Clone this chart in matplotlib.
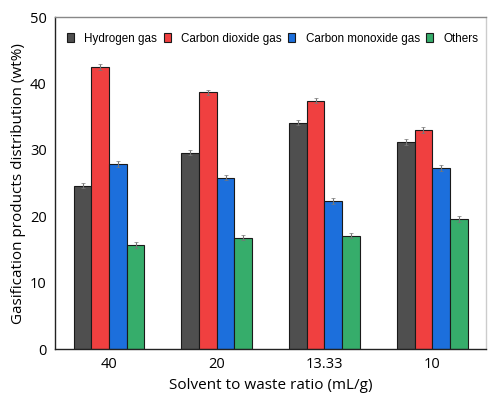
import matplotlib
matplotlib.use("Agg")
import matplotlib.pyplot as plt
import numpy as np

categories = ["40", "20", "13.33", "10"]
series_names = ["Hydrogen gas", "Carbon dioxide gas", "Carbon monoxide gas", "Others"]
hydrogen = [24.6, 29.6, 34.1, 31.2]
co2 = [42.5, 38.7, 37.4, 33.0]
co = [27.9, 25.8, 22.3, 27.3]
others = [15.7, 16.8, 17.1, 19.6]
errors_h2 = [0.4, 0.4, 0.4, 0.4]
errors_co2 = [0.4, 0.4, 0.4, 0.4]
errors_co = [0.4, 0.4, 0.4, 0.4]
errors_oth = [0.4, 0.4, 0.4, 0.4]
yticks = [0, 10, 20, 30, 40, 50]

colors = ["#4f4f4f", "#f04040", "#1c6fdc", "#36ad6b"]

fig = plt.figure(figsize=(4.88, 3.99), dpi=100)
ax = fig.add_axes([0.113, 0.125, 0.883, 0.832])

x = np.arange(len(categories))
w = 0.164
data = [hydrogen, co2, co, others]
errs = [errors_h2, errors_co2, errors_co, errors_oth]
for i, (vals, e) in enumerate(zip(data, errs)):
    ax.bar(x + (i - 1.5) * w, vals, w, color=colors[i], edgecolor="#1a1a1a",
           linewidth=0.8, label=series_names[i],
           yerr=e, error_kw=dict(ecolor="#777777", elinewidth=0.8, capsize=1.5, capthick=0.5))

ax.set_xlim(-0.5, 3.5)
ax.set_ylim(0, 50)
ax.set_yticks(yticks)
ax.set_xticks(x)
ax.set_xticklabels(categories)
ax.tick_params(axis="both", length=0, labelsize=10.5, pad=6)
for lab in ax.get_xticklabels() + ax.get_yticklabels():
    lab.set_fontfamily("Open Sans")
ax.set_xlabel("Solvent to waste ratio (mL/g)", fontsize=11, family="Open Sans", labelpad=4)
ax.set_ylabel("Gasification products distribution (wt%)", fontsize=11, family="Open Sans", labelpad=3)

ax.spines["left"].set_color("#222222")
ax.spines["bottom"].set_color("#222222")
ax.spines["top"].set_color("#888888")
ax.spines["right"].set_color("#cccccc")
for s in ax.spines.values():
    s.set_linewidth(1.0)

leg = ax.legend(ncol=4, loc="upper center", bbox_to_anchor=(0.505, 0.985), frameon=False,
                prop={"family": "Liberation Sans", "size": 8.4},
                handlelength=0.6, handleheight=0.9, handletextpad=0.9, columnspacing=0.55)

fig.savefig("out.png", dpi=100)
